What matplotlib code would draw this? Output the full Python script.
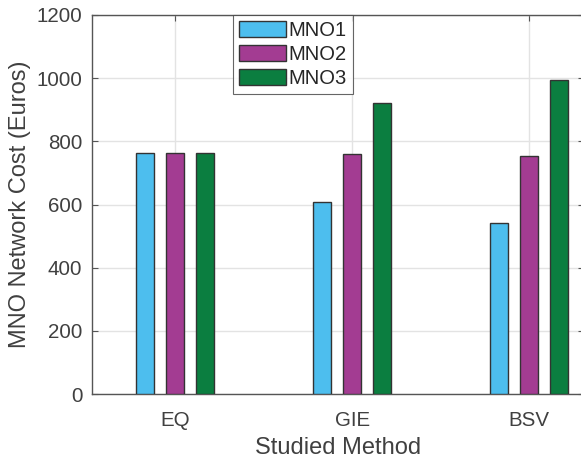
import matplotlib
matplotlib.use('Agg')
import matplotlib.pyplot as plt
import numpy as np

# Data
methods = ['EQ', 'GIE', 'BSV']
mno1 = [763, 608, 543]
mno2 = [763, 760, 755]
mno3 = [763, 921, 993]
series_names = ['MNO1', 'MNO2', 'MNO3']
series_colors = ['#4DBEEE', '#A33C92', '#0B7E40']

plt.rcParams['font.family'] = ['Liberation Sans', 'DejaVu Sans']
text_col = '#404040'

fig = plt.figure(figsize=(5.81, 4.59), dpi=100)
ax = fig.add_axes([92 / 581, 1 - 394 / 459, (584 - 92) / 581, (394 - 15) / 459])

x = np.arange(1, len(methods) + 1)
offset = 0.17
width = 0.10
for i, (vals, name, col) in enumerate(zip([mno1, mno2, mno3], series_names, series_colors)):
  ax.bar(x + (i - 1) * offset, vals, width, color=col, edgecolor='#333333',
         linewidth=1.0, label=name, zorder=3)

ax.set_xlim(0.53, 3.31)
ax.set_ylim(0, 1200)
ax.set_yticks(np.arange(0, 1201, 200))
ax.set_xticks(x)
ax.set_xticklabels(methods)

ax.grid(True, color='#e3e3e3', linewidth=1.0, zorder=0)
ax.set_axisbelow(True)
for s in ax.spines.values():
  s.set_color('#555555')
  s.set_linewidth(1.0)

ax.tick_params(direction='in', length=4, width=0.8, color='#555555',
               labelsize=14.8, labelcolor=text_col, top=True, right=True, pad=7)
ax.tick_params(axis='x', pad=12)

ax.set_xlabel('Studied Method', fontsize=17, color=text_col, labelpad=5)
ax.set_ylabel('MNO Network Cost (Euros)', fontsize=17, color=text_col, labelpad=4)

leg = ax.legend(loc='upper left', bbox_to_anchor=((232 - 92) / 489, 1.0),
                fontsize=14.5, frameon=True, fancybox=False, borderpad=0.3,
                handlelength=2.35, handleheight=0.85, handletextpad=0.12,
                labelspacing=0.25, borderaxespad=0)
leg.get_frame().set_edgecolor('#404040')
leg.get_frame().set_linewidth(0.8)
for t in leg.get_texts():
  t.set_color('#262626')

plt.savefig('out.png', dpi=100)
